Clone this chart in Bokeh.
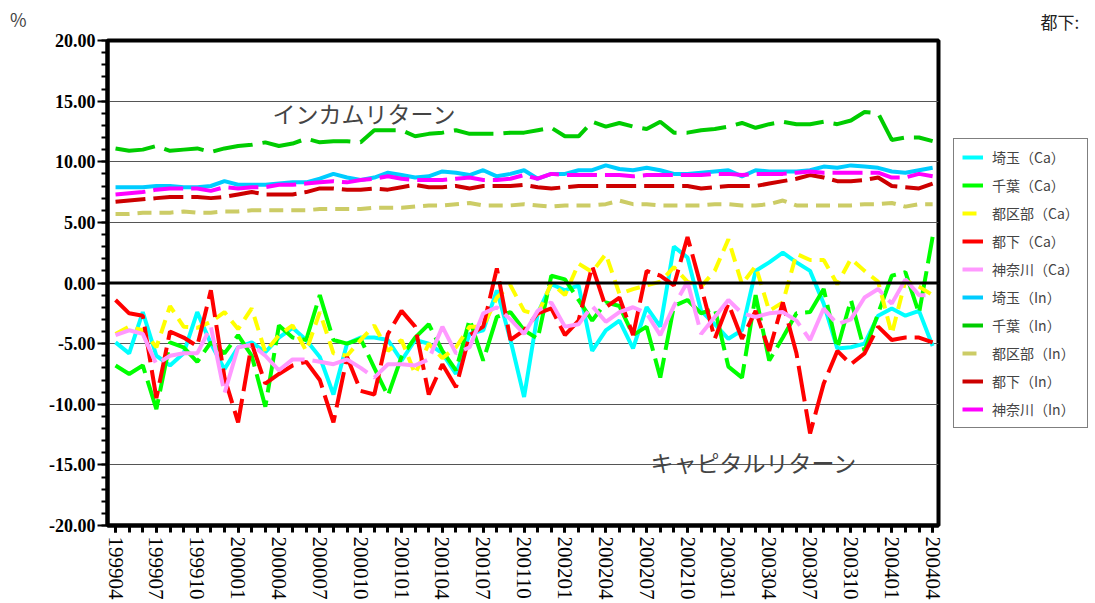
from bokeh.plotting import figure
from bokeh.layouts import row
from bokeh.models import (Range1d, FixedTicker, SingleIntervalTicker, PrintfTickFormatter,
                          Span, Label, Legend, LegendItem, Title)
from bokeh.embed import file_html
from bokeh.resources import INLINE

# ---- data (monthly, 199904 .. 200404) ----
n_months = 61
tick_labels = ["199904", "199907", "199910", "200001", "200004", "200007", "200010",
               "200101", "200104", "200107", "200110", "200201", "200204", "200207",
               "200210", "200301", "200304", "200307", "200310", "200401", "200404"]

saitama_ca = [-4.9, -5.8, -2.4, -6.0, -6.8, -5.8, -2.4, -5.0, -7.1, -5.3,
              -4.9, -5.7, -4.5, -3.7, -4.7, -6.1, -9.2, -5.0, -4.5, -4.5,
              -4.7, -6.4, -4.7, -5.0, -5.8, -7.5, -4.2, -3.9, -0.6, -4.7,
              -9.4, -2.5, -0.1, -0.6, -0.2, -5.6, -3.9, -3.1, -5.4, -2.0,
              -3.6, 3.0, 2.1, -2.3, -3.4, -4.6, -3.9, 1.0, 1.7, 2.5,
              1.7, 1.0, -1.7, -5.4, -5.3, -5.0, -2.7, -2.1, -2.7, -2.3,
              -5.2]
chiba_ca = [-6.8, -7.5, -6.8, -10.4, -4.9, -5.3, -6.5, -4.9, -5.8, -4.3,
            -6.0, -10.2, -3.5, -4.5, -4.7, -1.0, -4.7, -5.0, -4.6, -7.0,
            -9.3, -6.1, -4.5, -3.4, -5.6, -7.2, -3.0, -6.4, -2.8, -2.4,
            -3.9, -4.6, 0.6, 0.3, -1.4, -3.1, -1.6, -1.9, -4.3, -3.6,
            -7.8, -1.9, -1.4, -2.5, -2.1, -6.9, -7.8, -1.0, -6.4, -4.5,
            -2.5, -2.4, -0.5, -5.4, -1.4, -5.6, -2.5, 0.6, 0.9, -2.5,
            3.8]
kubu_ca = [-4.2, -3.6, -3.9, -5.3, -1.9, -3.6, -3.7, -3.2, -2.4, -3.8,
           -2.1, -5.7, -4.3, -3.5, -5.6, -2.4, -5.8, -6.0, -4.7, -3.5,
           -5.6, -4.7, -7.5, -5.0, -6.2, -5.3, -3.6, -3.6, -1.2, -0.2,
           -2.3, -2.6, 0.0, -1.0, 1.6, 0.9, 2.4, -0.9, -0.5, -0.2,
           0.1, 1.3, 0.1, -0.3, 1.0, 3.6, -0.1, 1.4, -2.3, -1.6,
           2.4, 1.9, 1.9, -0.1, 2.0, 1.0, 0.1, -4.2, 0.2, -0.3,
           -1.0]
toka_ca = [-1.4, -2.5, -2.7, -9.5, -4.0, -4.5, -5.2, -0.6, -7.8, -11.5,
           -5.0, -8.3, -7.5, -6.8, -6.5, -8.0, -11.5, -6.1, -8.9, -9.2,
           -4.2, -2.3, -3.6, -9.2, -6.7, -8.6, -4.3, -3.6, 1.2, -4.7,
           -3.9, -2.5, -2.1, -4.3, -3.1, 1.4, -2.0, -1.2, -4.3, 1.0,
           0.6, -0.2, 3.8, -0.3, -4.6, -1.7, -4.6, -2.3, -5.6, -1.6,
           -5.8, -12.4, -8.3, -5.6, -6.7, -5.8, -3.6, -4.7, -4.5, -4.5,
           -4.9]
kanagawa_ca = [-4.3, -3.9, -4.2, -6.7, -6.0, -5.8, -5.8, -3.6, -9.1, -5.3,
               -5.1, -6.0, -7.2, -6.3, -6.3, -6.5, -6.7, -6.3, -7.0, -7.8,
               -6.7, -6.7, -6.8, -6.3, -3.6, -5.8, -5.3, -2.5, -2.0, -3.0,
               -4.2, -2.3, -1.6, -3.6, -3.4, -1.9, -3.2, -2.4, -2.0, -2.5,
               -4.3, -1.9, 0.1, -4.2, -2.8, -1.4, -2.5, -2.8, -2.5, -2.4,
               -3.1, -4.7, -2.1, -3.4, -3.0, -1.2, -0.5, -1.7, 0.3, -1.0,
               -1.0]
saitama_in = [7.9, 7.9, 7.9, 8.0, 8.0, 7.9, 7.9, 8.0, 8.4, 8.1,
              8.1, 8.1, 8.2, 8.3, 8.3, 8.6, 9.0, 8.7, 8.5, 8.7,
              9.1, 8.9, 8.7, 8.8, 9.2, 9.1, 8.9, 9.3, 8.8, 9.0,
              9.3, 8.6, 9.0, 9.0, 9.3, 9.3, 9.7, 9.4, 9.3, 9.5,
              9.3, 9.0, 9.0, 9.1, 9.2, 9.3, 8.8, 9.3, 9.2, 9.2,
              9.2, 9.3, 9.6, 9.5, 9.7, 9.6, 9.5, 9.2, 9.1, 9.3,
              9.5]
chiba_in = [11.1, 10.9, 11.0, 11.3, 10.9, 11.0, 11.1, 10.8, 11.1, 11.3,
            11.4, 11.6, 11.3, 11.5, 11.9, 11.6, 11.7, 11.7, 11.6, 12.6,
            12.6, 12.6, 12.1, 12.3, 12.4, 12.6, 12.3, 12.3, 12.3, 12.4,
            12.4, 12.6, 12.8, 12.1, 12.1, 13.3, 12.9, 13.2, 12.9, 12.7,
            13.3, 12.4, 12.4, 12.6, 12.7, 12.9, 13.2, 12.8, 13.1, 13.3,
            13.1, 13.1, 13.3, 13.1, 13.4, 14.1, 14.0, 11.8, 12.0, 12.0,
            11.7]
kubu_in = [5.7, 5.7, 5.8, 5.8, 5.8, 5.9, 5.8, 5.8, 5.9, 5.9,
           6.0, 6.0, 6.0, 6.0, 6.0, 6.1, 6.1, 6.1, 6.1, 6.2,
           6.2, 6.2, 6.3, 6.4, 6.4, 6.5, 6.6, 6.4, 6.4, 6.4,
           6.5, 6.4, 6.3, 6.4, 6.4, 6.4, 6.5, 6.8, 6.5, 6.5,
           6.4, 6.4, 6.4, 6.4, 6.5, 6.5, 6.4, 6.4, 6.5, 6.8,
           6.4, 6.4, 6.4, 6.4, 6.4, 6.5, 6.5, 6.6, 6.3, 6.5,
           6.5]
toka_in = [6.7, 6.8, 6.9, 7.0, 7.1, 7.1, 7.1, 7.0, 7.1, 7.3,
           7.5, 7.3, 7.3, 7.3, 7.5, 7.8, 7.8, 7.7, 7.7, 7.8,
           7.7, 7.9, 8.1, 7.9, 7.9, 8.0, 7.8, 8.0, 8.0, 8.0,
           8.1, 7.9, 7.8, 7.9, 8.0, 8.0, 8.0, 8.0, 8.0, 8.0,
           8.0, 8.0, 8.0, 7.8, 7.9, 8.0, 8.0, 8.0, 8.2, 8.4,
           8.6, 8.9, 8.7, 8.4, 8.4, 8.5, 8.7, 8.0, 7.9, 7.8,
           8.2]
kanagawa_in = [7.3, 7.4, 7.5, 7.7, 7.8, 7.8, 7.8, 7.6, 7.9, 7.8,
               7.9, 7.9, 8.1, 8.1, 8.2, 8.3, 8.4, 8.3, 8.5, 8.6,
               8.8, 8.6, 8.5, 8.5, 8.5, 8.6, 8.7, 8.5, 8.5, 8.6,
               8.9, 8.6, 9.0, 8.9, 8.9, 8.9, 8.9, 8.9, 8.8, 8.9,
               8.9, 8.9, 8.9, 8.9, 9.0, 9.0, 8.9, 9.0, 9.0, 9.0,
               9.1, 9.2, 9.1, 9.1, 9.1, 9.1, 9.1, 8.7, 8.7, 9.0,
               8.8]

series = [
    ("埼玉（Ca）", saitama_ca, "#00FFFF", "solid"),
    ("千葉（Ca）", chiba_ca, "#00FF00", "40 8"),
    ("都区部（Ca）", kubu_ca, "#FFFF00", "14 8"),
    ("都下（Ca）", toka_ca, "#FF0000", "36 8"),
    ("神奈川（Ca）", kanagawa_ca, "#FF99FF", "60 8"),
    ("埼玉（In）", saitama_in, "#00CCFF", "solid"),
    ("千葉（In）", chiba_in, "#00CC00", "40 10"),
    ("都区部（In）", kubu_in, "#CCCC66", "14 8"),
    ("都下（In）", toka_in, "#CC0000", "30 8"),
    ("神奈川（In）", kanagawa_in, "#FF00FF", "30 8"),
]

x = list(range(n_months))
font_jp = "Noto Sans CJK JP"

# ---------------- main chart ----------------
p = figure(width=952, height=603, output_backend="svg", toolbar_location=None,
           x_range=Range1d(-0.59, 60.43), y_range=Range1d(-20, 20),
           min_border_left=107, min_border_right=14, min_border_top=40, min_border_bottom=78,
           background_fill_color="white", border_fill_color="white")
p.outline_line_color = "black"
p.outline_line_width = 4

p.xgrid.visible = False
p.ygrid.grid_line_color = "#555555"
p.ygrid.grid_line_width = 1

p.yaxis.ticker = SingleIntervalTicker(interval=5, num_minor_ticks=5)
p.yaxis.formatter = PrintfTickFormatter(format="%.2f")
p.yaxis.major_label_text_font = "Liberation Serif"
p.yaxis.major_label_text_font_style = "bold"
p.yaxis.major_label_text_font_size = "18px"
p.yaxis.major_label_text_color = "black"
p.yaxis.axis_line_width = 4
p.yaxis.major_tick_out = 10
p.yaxis.major_tick_in = 0
p.yaxis.minor_tick_out = 6
p.yaxis.minor_tick_in = 0
p.yaxis.major_tick_line_width = 2
p.yaxis.minor_tick_line_width = 2
p.yaxis.major_label_standoff = 2

major_ticks = list(range(0, n_months, 3))
p.xaxis.ticker = FixedTicker(ticks=major_ticks, minor_ticks=x)
p.xaxis.major_label_overrides = {t: lab for t, lab in zip(major_ticks, tick_labels)}
p.xaxis.major_label_orientation = "vertical"
p.xaxis.major_label_text_font = "Liberation Serif"
p.xaxis.major_label_text_font_size = "21px"
p.xaxis.major_label_text_color = "black"
p.xaxis.axis_line_width = 4
p.xaxis.major_tick_out = 7
p.xaxis.major_tick_in = 0
p.xaxis.minor_tick_out = 7
p.xaxis.minor_tick_in = 0
p.xaxis.major_tick_line_width = 3
p.xaxis.minor_tick_line_width = 3
p.xaxis.major_label_standoff = 4

p.add_layout(Span(location=0, dimension="width", line_color="black", line_width=3))

for name, vals, color, dash in series:
    p.line(x, vals, line_color=color, line_width=4, line_dash=dash)

p.add_layout(Label(x=11.53, y=14.06, text="インカムリターン", text_font=font_jp,
                   text_font_size="23px", text_baseline="middle", text_align="left"))
p.add_layout(Label(x=39.28, y=-14.8, text="キャピタルリターン", text_font=font_jp,
                   text_font_size="23px", text_baseline="middle", text_align="left"))
p.add_layout(Label(x=-7.75, y=21.8, text="%", text_font=font_jp,
                   text_font_size="18px", text_baseline="middle", text_align="left"), "left")

# ---------------- legend panel ----------------
q = figure(width=143, height=603, output_backend="svg", toolbar_location=None,
           x_range=Range1d(0, 143), y_range=Range1d(1000, 1603),
           min_border_left=0, min_border_right=0, min_border_top=40, min_border_bottom=78,
           background_fill_color="white", border_fill_color="white")
q.axis.visible = False
q.grid.visible = False
q.outline_line_color = None

items = []
for name, vals, color, dash in series:
    r = q.line(x, vals, line_color=color, line_width=4, line_dash=dash)
    items.append(LegendItem(label=name, renderers=[r]))

legend = Legend(items=items, location=(1, 97), border_line_color="black", border_line_width=1,
                background_fill_color="white", background_fill_alpha=1.0,
                label_text_font=font_jp, label_text_font_size="14px",
                glyph_width=21, glyph_height=20, label_height=20, spacing=8,
                padding=8, margin=0, label_standoff=9)
q.add_layout(legend)

q.add_layout(Title(text="都下:", align="left", offset=88, text_font=font_jp,
                   text_font_size="17px", text_font_style="normal", text_color="#222222",
                   standoff=13), "above")

open("out.html", "w").write(file_html(row(p, q), INLINE))
